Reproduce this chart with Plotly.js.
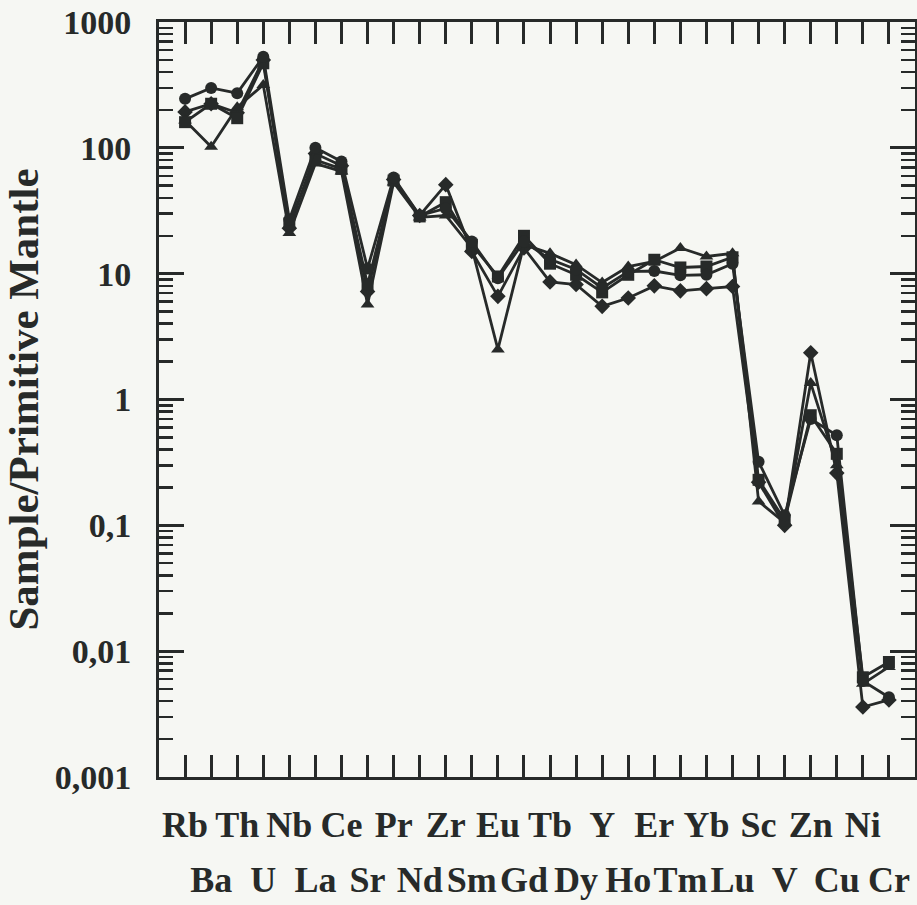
<!DOCTYPE html>
<html>
<head>
<meta charset="utf-8">
<script src="https://cdn.plot.ly/plotly-3.0.1.min.js"></script>
<style>
html,body{margin:0;padding:0;background:#f6f7f3;}
#chart{width:917px;height:905px;}
</style>
</head>
<body>
<div id="chart"></div>
<script>
// Categories (elements)
const elements = ["Rb","Ba","Th","U","Nb","La","Ce","Sr","Pr","Nd","Zr","Sm","Eu","Gd",
                  "Tb","Dy","Y","Ho","Er","Tm","Yb","Lu","Sc","V","Zn","Cu","Ni","Cr"];

// Sample / Primitive Mantle values
const circleSeries = [245,299,272,530, 27,100,78,11, 58,29,33,18, 9.2,18, 13,10.8,7.7,10.4, 10.5,9.7,9.8,12, 0.32,0.12,0.70,0.52, 0.0058,0.0043];
const squareSeries = [160,224,172,470, 25,80,68,8.2, 55,28.5,37,17, 9.5,20, 12,9.8,7.1,9.8, 12.9,11.2,11.4,13.5, 0.23,0.11,0.75,0.37, 0.0062,0.0082];
const triangleSeries = [165,102,210,316, 21,75,65,5.7, 53,28,29,16, 2.5,17, 14.5,11.8,8.5,11.4, 12.5,16,13.7,14.5, 0.155,0.105,1.35,0.30, 0.0055,0.0075];
const diamondSeries = [193,224,190,500, 23,90,72,7.2, 56,29,51,15, 6.6,16, 8.6,8.2,5.5,6.4, 8.0,7.3,7.6,7.9, 0.22,0.10,2.35,0.26, 0.0036,0.0041];

// Y tick labels
const yTickVals = [0.001,0.01,0.1,1,10,100,1000];
const yTickText = ["0,001","0,01","0,1","1","10","100","1000"];

const ink = "#272a29";
const idx = elements.map((_, i) => i);

function series(vals, symbol, size) {
  return {
    x: idx, y: vals, type: "scatter", mode: "lines+markers",
    line: {color: ink, width: 2.8},
    marker: {symbol: symbol, size: size, color: ink},
    showlegend: false, hoverinfo: "skip"
  };
}

// minor ticks 2..9 within each decade
const minorVals = [];
for (let e = -3; e < 3; e++) for (let d = 2; d <= 9; d++) minorVals.push(d * Math.pow(10, e));

const evenIdx = idx.filter(i => i % 2 === 0);
const oddIdx = idx.filter(i => i % 2 === 1);

const serif = "Liberation Serif, Times New Roman, serif";
const labelFont = {family: serif, size: 36, color: ink};

const data = [
  series(diamondSeries, "diamond", 12),
  series(triangleSeries, "triangle-up", 12),
  series(squareSeries, "square", 12),
  series(circleSeries, "circle", 12),
  // invisible helper to activate second x axis (odd labels)
  {x: [0], y: [1], xaxis: "x2", yaxis: "y", type: "scatter", mode: "markers",
   marker: {opacity: 0}, showlegend: false, hoverinfo: "skip"}
];

const layout = {
  width: 917, height: 905,
  paper_bgcolor: "#f6f7f3", plot_bgcolor: "#f6f7f3",
  margin: {l: 159, r: 2, t: 22, b: 128},
  xaxis: {
    range: [-1, 28], tickmode: "array", tickvals: evenIdx,
    ticktext: evenIdx.map(i => "<b>" + elements[i] + "</b>"),
    ticks: "inside", ticklen: 22, tickwidth: 3, tickcolor: ink,
    showline: true, linewidth: 3, linecolor: ink, mirror: "ticks",
    showgrid: false, zeroline: false, tickfont: labelFont,
    ticklabelstandoff: 14,
    minor: {tickmode: "array", tickvals: oddIdx, ticks: "inside", ticklen: 22, tickwidth: 3, tickcolor: ink, showgrid: false}
  },
  xaxis2: {
    range: [-1, 28], overlaying: "x", anchor: "y", side: "bottom",
    tickmode: "array", tickvals: oddIdx,
    ticktext: oddIdx.map(i => "<b>" + elements[i] + "</b>"),
    ticks: "", showline: false, showgrid: false, zeroline: false,
    tickfont: labelFont, ticklabelstandoff: 78
  },
  yaxis: {
    type: "log", range: [-3, 3],
    tickmode: "array", tickvals: yTickVals,
    ticktext: yTickText.map(t => "<b>" + t + "</b>"),
    ticks: "inside", ticklen: 25, tickwidth: 3, tickcolor: ink,
    showline: true, linewidth: 3, linecolor: ink, mirror: "ticks",
    showgrid: false, zeroline: false,
    tickfont: {family: serif, size: 34, color: ink},
    ticklabelstandoff: 18,
    minor: {tickmode: "array", tickvals: minorVals, ticks: "inside", ticklen: 14, tickwidth: 2.5, tickcolor: ink, showgrid: false},
    title: {text: "<b>Sample/Primitive Mantle</b>", font: {family: serif, size: 43, color: ink}, standoff: 8}
  }
};

Plotly.newPlot("chart", data, layout, {displayModeBar: false, staticPlot: true});
</script>
</body>
</html>
